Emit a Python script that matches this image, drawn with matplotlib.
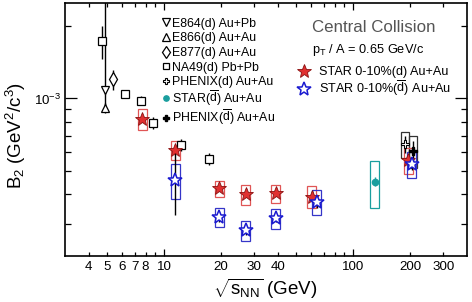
import matplotlib
matplotlib.use("Agg")
import matplotlib.pyplot as plt
from matplotlib.patches import Rectangle
from matplotlib.ticker import FixedLocator, FixedFormatter, NullFormatter
from matplotlib.transforms import ScaledTranslation
import numpy as np

plt.rcParams['font.family'] = ['Liberation Sans', 'DejaVu Sans']
plt.rcParams['mathtext.fontset'] = 'custom'
plt.rcParams['mathtext.rm'] = 'Liberation Sans'
plt.rcParams['mathtext.it'] = 'Liberation Sans:italic'
plt.rcParams['mathtext.bf'] = 'Liberation Sans:bold'
plt.rcParams['mathtext.sf'] = 'Liberation Sans'
plt.rcParams['mathtext.default'] = 'regular'

# ---------------- data ----------------
e864_x = [4.87]; e864_y = [1.08e-3]; e864_lo = [0.17e-3]; e864_hi = [2.0e-3]
e866_x = [4.87]; e866_y = [9.13e-4]; e866_lo = [0.45e-4]; e866_hi = [0.45e-4]
e877_x = [5.37]; e877_y = [1.20e-3]; e877_err = [0.115e-3]
na49_x = [4.7, 6.2, 7.6, 8.8, 12.3, 17.3]
na49_y = [1.73e-3, 1.04e-3, 9.8e-4, 7.93e-4, 6.4e-4, 5.6e-4]
na49_err = [0.27e-3, 0.02e-3, 0.04e-3, 0.045e-3, 0.035e-3, 0.03e-3]
phx_d_x = [188]; phx_d_y = [6.45e-4]; phx_d_stat = [0.55e-4]; phx_d_sys = [0.8e-4]
phx_db_x = [208]; phx_db_y = [6.05e-4]; phx_db_stat = [0.6e-4]; phx_db_sys = [0.92e-4]
star130_x = [130]; star130_y = [4.5e-4]; star130_stat = [0.2e-4]; star130_sys = [1.0e-4]

stard_x = [7.7, 11.5, 19.6, 27, 39, 60.5, 196]
stard_y = [8.2e-4, 6.1e-4, 4.22e-4, 3.99e-4, 4.03e-4, 3.9e-4, 5.55e-4]
stard_stat = [0.25e-4, 0.3e-4, 0.1e-4, 0.1e-4, 0.1e-4, 0.2e-4, 0.25e-4]
stard_sys = [0.8e-4, 0.55e-4, 0.33e-4, 0.38e-4, 0.35e-4, 0.4e-4, 0.69e-4]

stardb_x = [11.5, 19.6, 27, 39, 64.4, 204]
stardb_y = [4.57e-4, 3.2e-4, 2.83e-4, 3.17e-4, 3.71e-4, 5.32e-4]
stardb_stat = [1.3e-4, 0.15e-4, 0.12e-4, 0.12e-4, 0.2e-4, 0.3e-4]
stardb_sys = [0.74e-4, 0.29e-4, 0.27e-4, 0.3e-4, 0.45e-4, 0.67e-4]

x_major = [10, 100]
x_minor = [4, 5, 6, 7, 8, 9, 20, 30, 40, 50, 60, 70, 80, 90, 200, 300]
x_minor_labels = ['4', '5', '6', '7', '8', '', '20', '30', '40', '', '', '', '', '', '200', '300']
x_major_labels = ['10', '100']
y_major = [1e-3]
y_minor = [3e-4, 4e-4, 5e-4, 6e-4, 7e-4, 8e-4, 9e-4, 2e-3]

legend1_labels = ['E864(d) Au+Pb', 'E866(d) Au+Au', 'E877(d) Au+Au', 'NA49(d) Pb+Pb',
                  'PHENIX(d) Au+Au', r'STAR($\overline{\rm d}$) Au+Au',
                  r'PHENIX($\overline{\rm d}$) Au+Au']
legend2_labels = ['STAR 0-10%(d) Au+Au', r'STAR 0-10%($\overline{\rm d}$) Au+Au']

# ---------------- figure ----------------
fig = plt.figure(figsize=(4.72, 3.02), dpi=100)
L, R, B, T = 65, 467, 256.3, 3
ax = fig.add_axes([L / 472, 1 - B / 302, (R - L) / 472, (B - T) / 302])
ax.set_xscale('log')
ax.set_yscale('log')
ax.set_xlim(3, 400)
ax.set_ylim(2.2e-4, 2.5e-3)


def axx(px):
    return (px - L) / (R - L)


def axy(py):
    return (B - py) / (B - T)


HW = 0.024  # box half width in decades


def boxes(xs, ys, ss, color, hw=HW, lw=0.9):
    for x, y, s in zip(xs, ys, ss):
        x0 = x * 10 ** (-hw)
        x1 = x * 10 ** hw
        ax.add_patch(Rectangle((x0, y - s), x1 - x0, 2 * s, fill=False,
                               edgecolor=color, lw=lw, zorder=2))


red = '#e03030'
redbox = '#e05555'
blue = '#1a1ad0'
bluebox = '#3535c8'
teal = '#1a9e9e'

boxes(phx_d_x, phx_d_y, phx_d_sys, '#333333', hw=0.02)
boxes(phx_db_x, phx_db_y, phx_db_sys, '#333333', hw=0.02)
boxes(star130_x, star130_y, star130_sys, teal)
boxes(stard_x, stard_y, stard_sys, redbox)
boxes(stardb_x, stardb_y, stardb_sys, bluebox)

eb = dict(fmt='none', ecolor='k', elinewidth=1.0, capsize=0, zorder=3)
ax.errorbar(e864_x, e864_y, yerr=[e864_lo, e864_hi], **eb)
ax.errorbar(e866_x, e866_y, yerr=[e866_lo, e866_hi], **eb)
ax.errorbar(e877_x, e877_y, yerr=e877_err, **eb)
ax.errorbar(na49_x, na49_y, yerr=na49_err, **eb)
ax.errorbar(phx_d_x, phx_d_y, yerr=phx_d_stat, **eb)
ax.errorbar(phx_db_x, phx_db_y, yerr=phx_db_stat, **eb)
ax.errorbar(stard_x, stard_y, yerr=stard_stat, **eb)
ax.errorbar(stardb_x, stardb_y, yerr=stardb_stat, **eb)
ax.errorbar(star130_x, star130_y, yerr=star130_stat,
            fmt='none', ecolor=teal, elinewidth=1.0, capsize=0, zorder=3)

styles1 = [
    dict(marker='v', ms=6, mfc='white', mec='k', mew=0.9),
    dict(marker='^', ms=6, mfc='white', mec='k', mew=0.9),
    dict(marker='d', ms=7, mfc='white', mec='k', mew=0.9),
    dict(marker='s', ms=5.3, mfc='white', mec='k', mew=0.9),
    dict(marker='P', ms=5.8, mfc='white', mec='k', mew=0.8),
    dict(marker='o', ms=4.5, mfc=teal, mec=teal),
    dict(marker='P', ms=5.8, mfc='k', mec='k'),
]
series1 = [(e864_x, e864_y), (e866_x, e866_y), (e877_x, e877_y), (na49_x, na49_y),
           (phx_d_x, phx_d_y), (star130_x, star130_y), (phx_db_x, phx_db_y)]
for (xs, ys), st in zip(series1, styles1):
    ax.plot(xs, ys, ls='none', zorder=4, **st)

styles2 = [
    dict(marker='*', ms=10, mfc=red, mec='#8a1010', mew=0.6),
    dict(marker='*', ms=10, mfc='white', mec=blue, mew=1.1),
]
ax.plot(stard_x, stard_y, ls='none', zorder=4, **styles2[0])
ax.plot(stardb_x, stardb_y, ls='none', zorder=5, **styles2[1])

# ticks
ax.xaxis.set_major_locator(FixedLocator(x_major))
ax.xaxis.set_major_formatter(FixedFormatter(x_major_labels))
ax.xaxis.set_minor_locator(FixedLocator(x_minor))
ax.xaxis.set_minor_formatter(FixedFormatter(x_minor_labels))
ax.yaxis.set_major_locator(FixedLocator(y_major))
ax.yaxis.set_major_formatter(FixedFormatter([r'$10^{-3}$']))
ax.yaxis.set_minor_locator(FixedLocator(y_minor))
ax.yaxis.set_minor_formatter(NullFormatter())

ax.tick_params(which='both', direction='in', top=True, right=True,
               labelsize=9.6, width=0.9, colors='k')
ax.tick_params(axis='x', which='major', length=5.2, pad=3.5)
ax.tick_params(axis='x', which='minor', length=2.8, pad=3.5)
ax.tick_params(axis='y', which='major', length=8.5, pad=3)
ax.tick_params(axis='y', which='minor', length=4.5, pad=3)
for sp in ax.spines.values():
    sp.set_linewidth(1.2)

fig.text(16 / 472, 1 - 135 / 302, r'B$_2$ (GeV$^2$/c$^3$)', rotation=90,
         ha='center', va='center', fontsize=13.5)
fig.text(265 / 472, 1 - 289 / 302, r'$\sqrt{s_{\rm NN}}$ (GeV)',
         ha='center', va='center', fontsize=13.5)

# legend 1 (manual, uniform rows)
leg_texts, leg_marks = [], []
for i, (lab, st) in enumerate(zip(legend1_labels, styles1)):
    yb = 26.7 + i * 14.6
    st_leg = dict(st)
    st_leg['ms'] = st['ms'] * 0.85
    m, = ax.plot([axx(165.5)], [axy(yb - 4.4)], transform=ax.transAxes, clip_on=False,
                 ls='none', zorder=6, **st_leg)
    t = ax.text(axx(172.5), axy(yb), lab, transform=ax.transAxes, ha='left',
                va='baseline', fontsize=8.9)
    leg_texts.append(t)
    leg_marks.append(m)

# legend 2
for i, (lab, st) in enumerate(zip(legend2_labels, styles2)):
    yb = 75.0 + i * 18.3
    ax.plot([axx(304)], [axy(yb - 4.4)], transform=ax.transAxes, clip_on=False,
            ls='none', zorder=6, **st)
    ax.text(axx(319.3), axy(yb), lab, transform=ax.transAxes, ha='left',
            va='baseline', fontsize=9.1)

ax.text(axx(311.7), axy(31.7), 'Central Collision',
        transform=ax.transAxes, ha='left', va='baseline', fontsize=12.2,
        color='#555555')
ax.text(axx(311.7), axy(53.3), r'p$_T$ / A = 0.65 GeV/c',
        transform=ax.transAxes, ha='left', va='baseline', fontsize=9.2)

# nudge legend rows apart where the overline makes text boxes touch
fig.canvas.draw()
r = fig.canvas.get_renderer()
shift_total = 0.0
for i in range(1, len(leg_texts)):
    prev = leg_texts[i - 1].get_window_extent(r)
    cur = leg_texts[i].get_window_extent(r)
    cur_top = cur.y1 - shift_total
    overlap = cur_top - prev.y0 + 0.6
    if overlap > 0:
        shift_total += overlap
    if shift_total > 0:
        off = ScaledTranslation(0, -shift_total / fig.dpi, fig.dpi_scale_trans)
        leg_texts[i].set_transform(ax.transAxes + off)
        leg_marks[i].set_transform(ax.transAxes + off)

fig.savefig('out.png', dpi=100)
